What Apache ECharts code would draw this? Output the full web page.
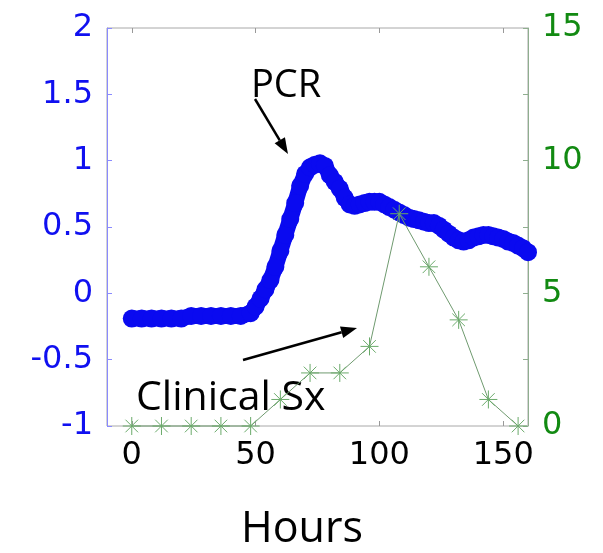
<!DOCTYPE html>
<html>
<head>
<meta charset="utf-8">
<script src="https://cdn.jsdelivr.net/npm/echarts@6/dist/echarts.min.js"></script>
<style>
  html, body { margin: 0; padding: 0; background: #fff; }
  #chart { width: 603px; height: 553px; }
</style>
</head>
<body>
<div id="chart"></div>
<script>
// PCR signal (left axis), hours vs value
var pcrHours = [0, 4, 8, 12, 16, 20, 24, 28, 32, 36, 40, 44, 48, 50, 52, 54, 56, 58, 60, 62, 64, 66, 68, 70,
  72, 74, 76, 78, 80, 82, 84, 86, 88, 90, 92, 94, 96, 98, 100, 102, 104, 106, 108, 110, 112, 114, 116, 118,
  120, 122, 124, 126, 128, 130, 132, 134, 136, 138, 140, 142, 144, 146, 148, 150, 152, 154, 156, 158, 160]
var pcrValues = [-0.19, -0.19, -0.19, -0.19, -0.19, -0.19, -0.17, -0.17, -0.17, -0.17, -0.17, -0.17, -0.15,
  -0.1, -0.04, 0.03, 0.1, 0.2, 0.32, 0.44, 0.56, 0.68, 0.81, 0.9, 0.95, 0.97, 0.98, 0.96, 0.89, 0.84,
  0.79, 0.72, 0.67, 0.66, 0.67, 0.68, 0.69, 0.69, 0.69, 0.67, 0.65, 0.63, 0.61, 0.59, 0.57, 0.56, 0.55,
  0.54, 0.53, 0.53, 0.51, 0.48, 0.45, 0.42, 0.4, 0.39, 0.4, 0.42, 0.43, 0.44, 0.44, 0.43, 0.42, 0.41,
  0.39, 0.38, 0.36, 0.34, 0.31]

// clinical symptom score (right axis)
var sxHours = [0, 12, 24, 36, 48, 60, 72, 84, 96, 108, 120, 132, 144, 156]
var sxScores = [0, 0, 0, 0, 0, 1, 2, 2, 3, 8, 6, 4, 1, 0]

var xTicks = [0, 50, 100, 150]

var chart = echarts.init(document.getElementById('chart'))

function arrow(x1, y1, x2, y2) {
  var ang = Math.atan2(y2 - y1, x2 - x1)
  var len = 16, half = 6
  var bx = x2 - len * Math.cos(ang), by = y2 - len * Math.sin(ang)
  var px = -Math.sin(ang) * half, py = Math.cos(ang) * half
  return [
    { type: 'line', shape: { x1: x1, y1: y1, x2: bx, y2: by }, style: { stroke: '#000', lineWidth: 2.5 } },
    { type: 'polygon', shape: { points: [[x2, y2], [bx + px, by + py], [bx - px, by - py]] }, style: { fill: '#000' } }
  ]
}

var starPath = 'path://M10,0L10,20M0,10L20,10M3,3L17,17M3,17L17,3'

chart.setOption({
  animation: false,
  grid: {
    left: 107,
    right: 75,
    top: 28,
    bottom: 127,
    show: true,
    borderColor: '#a8a8a8',
    borderWidth: 1
  },
  xAxis: [{
    type: 'value',
    min: -10,
    max: 160,
    splitLine: { show: false },
    axisLine: { show: false, onZero: false },
    axisTick: { show: true, inside: true, length: 5, customValues: xTicks, lineStyle: { color: '#999' } },
    axisLabel: {
      customValues: xTicks,
      margin: 14,
      color: '#000',
      fontFamily: 'DejaVu Sans',
      fontSize: 32
    }
  }, {
    type: 'value',
    position: 'top',
    min: -10,
    max: 160,
    splitLine: { show: false },
    axisLine: { show: false, onZero: false },
    axisTick: { show: true, inside: true, length: 5, customValues: xTicks, lineStyle: { color: '#999' } },
    axisLabel: { show: false }
  }],
  yAxis: [{
    type: 'value',
    min: -1,
    max: 2,
    interval: 0.5,
    splitLine: { show: false },
    axisLine: { show: true, onZero: false, lineStyle: { color: '#8a8aff', width: 1 } },
    axisTick: { show: true, inside: true, length: 5, lineStyle: { color: '#8a8aff' } },
    axisLabel: {
      margin: 14,
      color: '#1010f0',
      fontFamily: 'DejaVu Sans',
      fontSize: 32
    }
  }, {
    type: 'value',
    min: 0,
    max: 15,
    interval: 2.5,
    position: 'right',
    splitLine: { show: false },
    axisLine: { show: true, onZero: false, lineStyle: { color: '#8fae8f', width: 1 } },
    axisTick: { show: true, inside: true, length: 5, lineStyle: { color: '#8fae8f' } },
    axisLabel: {
      margin: 14,
      color: '#128a12',
      fontFamily: 'DejaVu Sans',
      fontSize: 32,
      formatter: function (v) { return v % 5 === 0 ? String(v) : '' }
    }
  }],
  series: [{
    name: 'PCR',
    type: 'line',
    yAxisIndex: 0,
    data: pcrHours.map(function (h, i) { return [h, pcrValues[i]] }),
    clip: false,
    symbol: 'circle',
    symbolSize: 18,
    showAllSymbol: true,
    lineStyle: { color: '#0a0af0', width: 16 },
    itemStyle: { color: '#0a0af0', borderWidth: 0 },
    z: 2
  }, {
    name: 'Clinical Sx',
    type: 'line',
    yAxisIndex: 1,
    data: sxHours.map(function (h, i) { return [h, sxScores[i]] }),
    clip: false,
    symbol: starPath,
    symbolSize: 18,
    showAllSymbol: true,
    lineStyle: { color: '#6f9a6f', width: 1 },
    itemStyle: { color: 'none', borderColor: '#6aaa6a', borderWidth: 1 },
    z: 3
  }],
  graphic: [
    { type: 'text', left: 251, top: 67, style: { text: 'PCR', font: '38px "Open Sans"', fill: '#000' } },
    { type: 'text', left: 136, top: 378, style: { text: 'Clinical Sx', font: '41px "Open Sans"', fill: '#000' } },
    { type: 'text', left: 241, top: 508, style: { text: 'Hours', font: '43px "Open Sans"', fill: '#000' } }
  ].concat(arrow(255, 99, 288, 154)).concat(arrow(243, 360, 357, 328))
})
</script>
</body>
</html>
